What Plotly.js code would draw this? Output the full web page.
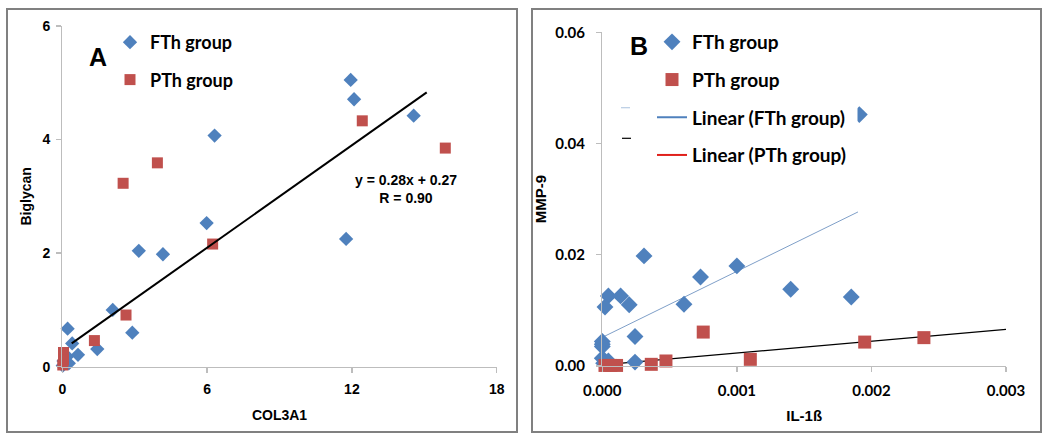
<!DOCTYPE html>
<html>
<head>
<meta charset="utf-8">
<script src="https://cdn.plot.ly/plotly-3.0.1.min.js"></script>
<style>html,body{margin:0;padding:0;background:#fff;}#chart{width:1050px;height:441px;}</style>
</head>
<body>
<div id="chart"></div>
<script>
// ---------- Panel A data (COL3A1 vs Biglycan) ----------
const fthA_x = [11.95, 12.09, 14.56, 6.31, 5.98, 11.76, 3.17, 4.17, 2.09, 2.90, 0.22, 0.41, 0.65, 1.45, 0.20, 0.27, 0.05, 0.02];
const fthA_y = [5.05, 4.71, 4.42, 4.07, 2.53, 2.25, 2.04, 1.98, 1.00, 0.60, 0.67, 0.41, 0.21, 0.31, 0.18, 0.06, 0.10, 0.02];
const pthA_x = [12.43, 15.87, 3.94, 2.52, 6.23, 2.64, 1.33, 0.05, 0.05, 0.02];
const pthA_y = [4.33, 3.85, 3.59, 3.23, 2.16, 0.91, 0.46, 0.25, 0.12, 0.03];
const fitA_x = [0.39, 15.1];
const fitA_y = [0.41, 4.83];
const ticksA_x = [0, 6, 12, 18];
const ticksA_y = [0, 2, 4, 6];

// ---------- Panel B data (IL-1ß vs MMP-9) ----------
const fthB_x = [0.00191, 0.00031, 0.00100, 0.00073, 0.00140, 0.00185, 0.000045, 0.000136, 0.00002, 0.00020, 0.000607, 0.000243, 0.000243, 0, 0, 0, 0, 0.000045, 0.00001];
const fthB_y = [0.0452, 0.0198, 0.0180, 0.0160, 0.0138, 0.0124, 0.0126, 0.0126, 0.0106, 0.0110, 0.0111, 0.0053, 0.0007, 0.0044, 0.0035, 0.0039, 0.0014, 0.0009, 0.0005];
const pthB_x = [0.00075, 0.00195, 0.00239, 0.00110, 0.000473, 0.000364, 0.00002, 0.000064, 0.000106];
const pthB_y = [0.0061, 0.0043, 0.0051, 0.0012, 0.0009, 0.0003, 0.0001, 0.0001, 0.0001];
const fitB_fth_x = [0, 0.0019];
const fitB_fth_y = [0.00515, 0.0277];
const fitB_pth_x = [0.00002, 0.003];
const fitB_pth_y = [0.00024, 0.0066];
const ticksB_x = [0, 0.001, 0.002, 0.003];
const ticksB_y = [0, 0.02, 0.04, 0.06];

const BLUE = '#4F81BD';
const RED = '#C0504D';
const W = 1050, H = 441;
const px = v => v / W;
const py = v => 1 - v / H;

const traces = [
  {x: fthA_x, y: fthA_y, xaxis: 'x', yaxis: 'y', mode: 'markers', type: 'scatter', name: 'FTh group',
   marker: {symbol: 'diamond', size: 11, color: BLUE}, cliponaxis: false, legend: 'legend', legendgroup: 'a1'},
  {x: pthA_x, y: pthA_y, xaxis: 'x', yaxis: 'y', mode: 'markers', type: 'scatter', name: 'PTh group',
   marker: {symbol: 'square', size: 11, color: RED}, cliponaxis: false, legend: 'legend', legendgroup: 'a2'},
  {x: fitA_x, y: fitA_y, xaxis: 'x', yaxis: 'y', mode: 'lines', type: 'scatter', showlegend: false,
   line: {color: '#000', width: 2}},

  {x: fitB_fth_x, y: fitB_fth_y, xaxis: 'x2', yaxis: 'y2', mode: 'lines', type: 'scatter', showlegend: false,
   line: {color: '#7F9FC8', width: 1}},
  {x: fitB_pth_x, y: fitB_pth_y, xaxis: 'x2', yaxis: 'y2', mode: 'lines', type: 'scatter', showlegend: false,
   line: {color: '#000', width: 1.2}},
  {x: fthB_x, y: fthB_y, xaxis: 'x2', yaxis: 'y2', mode: 'markers', type: 'scatter', name: 'FTh group',
   marker: {symbol: 'diamond', size: 13, color: BLUE}, cliponaxis: false, legend: 'legend2', legendgroup: 'b1'},
  {x: pthB_x, y: pthB_y, xaxis: 'x2', yaxis: 'y2', mode: 'markers', type: 'scatter', name: 'PTh group',
   marker: {symbol: 'square', size: 13, color: RED}, cliponaxis: false, legend: 'legend2', legendgroup: 'b2'},
  {x: [null], y: [null], xaxis: 'x2', yaxis: 'y2', mode: 'lines', type: 'scatter', name: 'Linear (FTh group)',
   line: {color: BLUE, width: 2}, legend: 'legend2', legendgroup: 'b3'},
  {x: [null], y: [null], xaxis: 'x2', yaxis: 'y2', mode: 'lines', type: 'scatter', name: 'Linear (PTh group)',
   line: {color: '#E0201B', width: 2}, legend: 'legend2', legendgroup: 'b4'}
];

const tickFontA = {family: 'Liberation Sans, Arial, sans-serif', size: 14, color: '#000', weight: 'bold'};
const tickFontB = {family: 'Lato, Open Sans, sans-serif', size: 15, color: '#000', weight: 'bold'};
const titleFontA = {family: 'Liberation Sans, Arial, sans-serif', size: 14, color: '#000', weight: 'bold'};
const titleFontB = {family: 'Liberation Sans, Arial, sans-serif', size: 15, color: '#000', weight: 'bold'};
const axisCommon = {
  showgrid: false, zeroline: false, showline: true, linecolor: '#BDBDBD', linewidth: 1.3,
  ticks: 'outside', ticklen: 5, tickcolor: '#BDBDBD', tickwidth: 1.3, fixedrange: true
};

const layout = {
  width: W, height: H,
  margin: {l: 0, r: 0, t: 0, b: 0},
  paper_bgcolor: '#fff', plot_bgcolor: '#fff',
  showlegend: true,
  xaxis: Object.assign({}, axisCommon, {
    domain: [px(62.3), px(496.7)], range: [0, 18], tickvals: ticksA_x, ticktext: ticksA_x.map(String),
    tickfont: tickFontA, ticklabelstandoff: 4,
    anchor: 'y', title: {text: 'COL3A1', font: titleFontA, standoff: 14}
  }),
  yaxis: Object.assign({}, axisCommon, {
    domain: [py(366.7), py(26)], range: [0, 6], tickvals: ticksA_y, ticktext: ticksA_y.map(String),
    tickfont: tickFontA, ticklabelstandoff: 3,
    anchor: 'x', title: {text: 'Biglycan', font: titleFontA, standoff: 7}
  }),
  xaxis2: Object.assign({}, axisCommon, {
    domain: [px(602.3), px(1006)], range: [0, 0.003], tickvals: ticksB_x, ticktext: ticksB_x.map(v => v.toFixed(3)),
    tickfont: tickFontB, ticklabelstandoff: 6,
    anchor: 'y2', title: {text: 'IL-1ß', font: titleFontB, standoff: 12}
  }),
  yaxis2: Object.assign({}, axisCommon, {
    domain: [py(366), py(32.3)], range: [0, 0.06], tickvals: ticksB_y, ticktext: ticksB_y.map(v => v.toFixed(2)),
    tickfont: tickFontB, ticklabelstandoff: 8,
    anchor: 'x2', title: {text: 'MMP-9', font: titleFontB, standoff: 5}
  }),
  legend: {
    x: px(110), y: py(24), xanchor: 'left', yanchor: 'top', bgcolor: 'rgba(0,0,0,0)',
    font: {family: 'Lato, Open Sans, sans-serif', size: 18, color: '#000', weight: 'bold'},
    tracegroupgap: 11, itemwidth: 30
  },
  legend2: {
    x: px(652), y: py(23), xanchor: 'left', yanchor: 'top', bgcolor: 'rgba(0,0,0,0)',
    font: {family: 'Lato, Open Sans, sans-serif', size: 19, color: '#000', weight: 'bold'},
    tracegroupgap: 10, itemwidth: 30
  },
  annotations: [
    {text: 'A', x: px(97.7), y: py(56.7), xref: 'paper', yref: 'paper', showarrow: false,
     xanchor: 'center', yanchor: 'middle',
     font: {family: 'Liberation Sans, Arial, sans-serif', size: 25, weight: 'bold', color: '#000'}},
    {text: 'B', x: px(639.3), y: py(46), xref: 'paper', yref: 'paper', showarrow: false,
     xanchor: 'center', yanchor: 'middle',
     font: {family: 'Liberation Sans, Arial, sans-serif', size: 25, weight: 'bold', color: '#000'}},
    {text: 'y = 0.28x + 0.27<br>R = 0.90', x: px(405.5), y: py(189), xref: 'paper', yref: 'paper', showarrow: false,
     xanchor: 'center', yanchor: 'middle', align: 'center',
     font: {family: 'Liberation Sans, Arial, sans-serif', size: 14, weight: 'bold', color: '#000'}}
  ],
  shapes: [
    {type: 'rect', xref: 'paper', yref: 'paper', x0: px(7), x1: px(517), y0: py(432), y1: py(9),
     line: {color: '#808080', width: 2}},
    {type: 'rect', xref: 'paper', yref: 'paper', x0: px(532), x1: px(1041), y0: py(432), y1: py(9),
     line: {color: '#808080', width: 2}},
    {type: 'line', xref: 'paper', yref: 'paper', x0: px(621), x1: px(630), y0: py(107.7), y1: py(107.7),
     line: {color: '#B8CCE4', width: 1.2}},
    {type: 'line', xref: 'paper', yref: 'paper', x0: px(622), x1: px(631), y0: py(138.3), y1: py(138.3),
     line: {color: '#000', width: 1.2}},
    {type: 'rect', xref: 'paper', yref: 'paper', x0: px(846), x1: px(857.5), y0: py(126), y1: py(102),
     layer: 'above', fillcolor: '#fff', line: {width: 0}}
  ]
};

Plotly.newPlot('chart', traces, layout, {staticPlot: true, displayModeBar: false});
</script>
</body>
</html>
